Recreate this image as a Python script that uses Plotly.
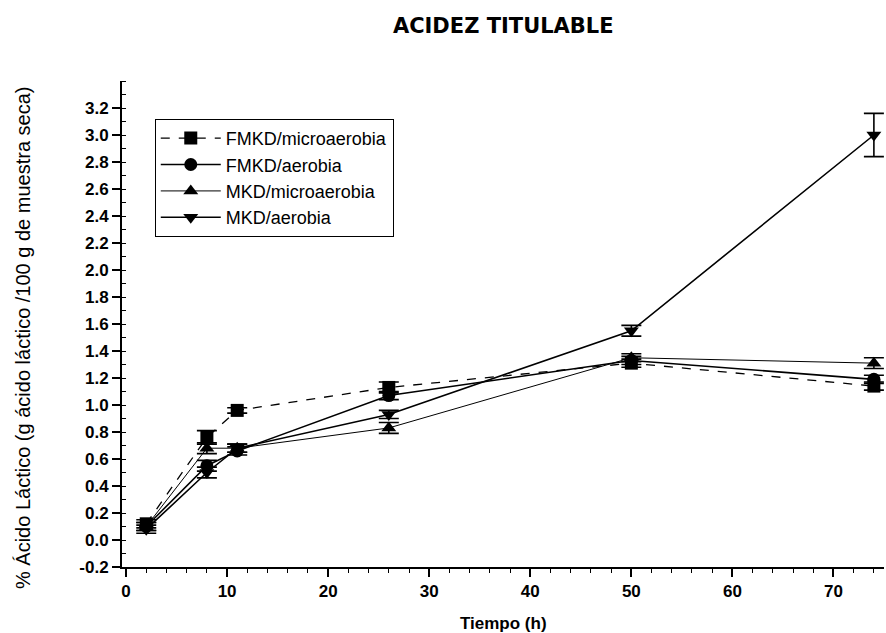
import plotly.graph_objects as go

# Sampling times (h)
tiempo = [2, 8, 11, 26, 50, 74]

# % lactic acid per treatment and its standard deviation
fmkd_micro = [0.12, 0.76, 0.96, 1.13, 1.31, 1.14]
fmkd_micro_err = [0.03, 0.05, 0.02, 0.04, 0.03, 0.03]
fmkd_aer = [0.10, 0.55, 0.66, 1.07, 1.33, 1.19]
fmkd_aer_err = [0.03, 0.04, 0.03, 0.03, 0.03, 0.03]
mkd_micro = [0.10, 0.68, 0.68, 0.83, 1.35, 1.31]
mkd_micro_err = [0.03, 0.04, 0.03, 0.04, 0.03, 0.04]
mkd_aer = [0.08, 0.50, 0.68, 0.93, 1.55, 3.00]
mkd_aer_err = [0.03, 0.04, 0.03, 0.03, 0.04, 0.16]

series = [
    ("FMKD/microaerobia", fmkd_micro, fmkd_micro_err, "square", "dash", 1.3),
    ("FMKD/aerobia", fmkd_aer, fmkd_aer_err, "circle", "solid", 1.6),
    ("MKD/microaerobia", mkd_micro, mkd_micro_err, "triangle-up", "solid", 1.0),
    ("MKD/aerobia", mkd_aer, mkd_aer_err, "triangle-down", "solid", 1.6),
]

y_ticks = [-0.2, 0.0, 0.2, 0.4, 0.6, 0.8, 1.0, 1.2, 1.4, 1.6, 1.8, 2.0,
           2.2, 2.4, 2.6, 2.8, 3.0, 3.2]
y_labels = ["-0.2", "0.0", "0.2", "0.4", "0.6", "0.8", "1.0", "1.2", "1.4",
            "1.6", "1.8", "2.0", "2.2", "2.4", "2.6", "2.8", "3.0", "3.2"]
x_ticks = [0, 10, 20, 30, 40, 50, 60, 70]
x_labels = ["0", "10", "20", "30", "40", "50", "60", "70"]

fig = go.Figure()
for name, vals, err, symbol, dash, lw in series:
    fig.add_trace(go.Scatter(
        x=tiempo, y=vals, name=name, mode="lines+markers",
        line=dict(color="black", width=lw, dash=dash),
        marker=dict(symbol=symbol, size=13, color="black"),
        error_y=dict(type="data", array=err, visible=True,
                     color="black", thickness=1.6, width=10),
    ))

font = "Liberation Sans, Arial, sans-serif"
fig.update_layout(
    width=886, height=633,
    paper_bgcolor="white", plot_bgcolor="white",
    margin=dict(l=122, r=2, t=81, b=66),
    title=dict(text="<b>ACIDEZ TITULABLE</b>", x=0.568, xanchor="center",
               y=0.96, yanchor="middle",
               font=dict(family="DejaVu Sans, sans-serif", size=21, color="black")),
    font=dict(family=font, color="black"),
    showlegend=True,
    legend=dict(x=0.043, y=0.922, xanchor="left", yanchor="top",
                bordercolor="black", borderwidth=1, bgcolor="white",
                font=dict(size=18, family=font), tracegroupgap=0,
                itemwidth=60),
    xaxis=dict(
        range=[-0.4, 75], tickvals=x_ticks,
        ticktext=["<b>%s</b>" % t for t in x_labels],
        showgrid=False, zeroline=False,
        showline=True, linecolor="black", linewidth=2,
        ticks="outside", ticklen=8, tickwidth=1.5, tickcolor="black",
        tickfont=dict(size=17, family=font),
        minor=dict(dtick=2, ticks="outside", ticklen=4, tickcolor="black",
                   tickwidth=1),
    ),
    yaxis=dict(
        range=[-0.2, 3.4], tickvals=y_ticks,
        ticktext=["<b>%s</b>" % t for t in y_labels],
        showgrid=False, zeroline=False,
        showline=True, linecolor="black", linewidth=2,
        ticks="outside", ticklen=8, tickwidth=1.5, tickcolor="black",
        tickfont=dict(size=17, family=font),
        minor=dict(dtick=0.1, ticks="inside", ticklen=4, tickcolor="black",
                   tickwidth=1),
    ),
    annotations=[
        dict(text="<b>Tiempo (h)</b>", xref="paper", yref="paper",
             x=0.5, y=0, xanchor="center", yanchor="middle",
             yshift=-56, showarrow=False,
             font=dict(size=17, family=font, color="black")),
        dict(text="% Ácido Láctico (g ácido láctico /100 g de muestra seca)",
             xref="paper", yref="paper", x=0, y=0.5, textangle=-90,
             xanchor="center", yanchor="middle", xshift=-99, yshift=-14,
             showarrow=False,
             font=dict(size=20, family=font, color="black")),
    ],
)

fig.write_html("out.html")
